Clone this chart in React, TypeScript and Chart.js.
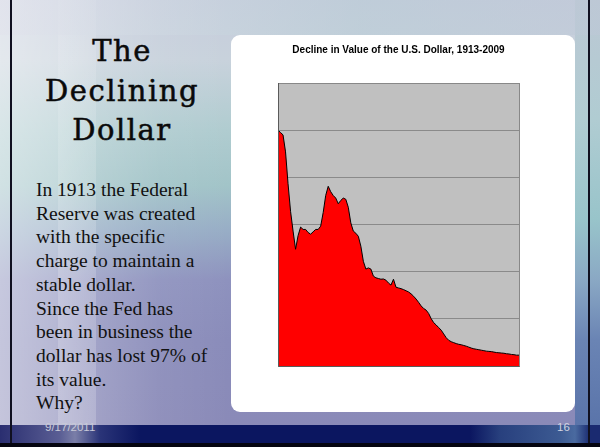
import React, { useEffect, useRef } from "react";
import { Chart, registerables } from "chart.js";

Chart.register(...registerables);

const START_YEAR = 1913;
const END_YEAR = 2009;
const years: string[] = Array.from({ length: END_YEAR - START_YEAR + 1 }, (_, i) => String(START_YEAR + i));

// Purchasing power of the 1913 dollar (1913 = 1.00)
const dollarValue: number[] = [
  1.0, 0.99, 0.98, 0.908, 0.773, 0.656, 0.572, 0.495, 0.553, 0.589,
  0.579, 0.579, 0.566, 0.559, 0.569, 0.579, 0.579, 0.593, 0.651, 0.723,
  0.762, 0.739, 0.723, 0.712, 0.688, 0.702, 0.712, 0.707, 0.673, 0.607,
  0.572, 0.563, 0.55, 0.508, 0.444, 0.411, 0.416, 0.411, 0.381, 0.374,
  0.371, 0.368, 0.369, 0.364, 0.352, 0.343, 0.368, 0.334, 0.331, 0.328,
  0.324, 0.319, 0.314, 0.306, 0.296, 0.284, 0.27, 0.255, 0.244, 0.237,
  0.223, 0.201, 0.184, 0.174, 0.163, 0.152, 0.136, 0.12, 0.109, 0.103,
  0.099, 0.095, 0.092, 0.09, 0.087, 0.084, 0.08, 0.076, 0.073, 0.071,
  0.069, 0.067, 0.065, 0.063, 0.062, 0.061, 0.059, 0.057, 0.056, 0.055,
  0.054, 0.052, 0.051, 0.049, 0.048, 0.046, 0.046,
];

const CHART_TITLE = "Decline in Value of the U.S. Dollar, 1913-2009";
const SLIDE_TITLE = ["The", "Declining", "Dollar"];
const BODY_LINES = [
  "In 1913 the Federal",
  "Reserve was created",
  "with the specific",
  "charge to maintain a",
  "stable dollar.",
  "Since the Fed has",
  "been in business the",
  "dollar has lost 97% of",
  "its value.",
  "Why?",
];
const DATE_TEXT = "9/17/2011";
const PAGE_NUM = "16";

const plotFrame = {
  id: "plotFrame",
  beforeDraw(chart: any) {
    const { ctx, chartArea } = chart;
    if (!chartArea) return;
    ctx.save();
    ctx.fillStyle = "#c0c0c0";
    ctx.fillRect(chartArea.left, chartArea.top, chartArea.right - chartArea.left, chartArea.bottom - chartArea.top);
    ctx.restore();
  },
  afterDraw(chart: any) {
    const { ctx, chartArea } = chart;
    if (!chartArea) return;
    ctx.save();
    ctx.lineWidth = 1;
    ctx.strokeStyle = "#888888";
    ctx.strokeRect(
      Math.round(chartArea.left) + 0.5,
      Math.round(chartArea.top) + 0.5,
      Math.round(chartArea.right - chartArea.left),
      Math.round(chartArea.bottom - chartArea.top)
    );
    ctx.strokeStyle = "#5a5a5a";
    ctx.beginPath();
    ctx.moveTo(Math.round(chartArea.left) + 0.5, Math.round(chartArea.top));
    ctx.lineTo(Math.round(chartArea.left) + 0.5, Math.round(chartArea.bottom) + 0.5);
    ctx.lineTo(Math.round(chartArea.right) + 0.5, Math.round(chartArea.bottom) + 0.5);
    ctx.stroke();
    ctx.restore();
  },
};

function DollarChart() {
  const ref = useRef<HTMLCanvasElement | null>(null);
  useEffect(() => {
    if (!ref.current) return;
    const chart = new Chart(ref.current, {
      type: "line",
      data: {
        labels: years,
        datasets: [
          {
            data: dollarValue,
            fill: "origin",
            backgroundColor: "#ff0000",
            borderColor: "#000000",
            borderWidth: 1,
            pointRadius: 0,
            tension: 0,
          },
        ],
      },
      options: {
        animation: false,
        responsive: false,
        maintainAspectRatio: false,
        layout: { padding: { left: 47, right: 56, top: 0, bottom: 46 } },
        plugins: {
          legend: { display: false },
          tooltip: { enabled: false },
          title: {
            display: true,
            text: CHART_TITLE,
            color: "#000000",
            font: { family: "Arial, 'Liberation Sans', sans-serif", size: 10, weight: "bold" },
            padding: { top: 9, bottom: 27 },
          },
        },
        scales: {
          x: { display: false },
          y: {
            min: 0,
            max: 1.2,
            ticks: { display: false, stepSize: 0.2 },
            grid: { color: "#8a8a8a", drawTicks: false, lineWidth: 1 },
            border: { display: false },
          },
        },
      },
      plugins: [plotFrame],
    } as any);
    return () => chart.destroy();
  }, []);
  return <canvas ref={ref} width={344} height={377} style={{ display: "block", width: 344, height: 377 }} />;
}

export default function App() {
  useEffect(() => {
    document.body.style.margin = "0";
  }, []);
  return (
    <div
      style={{
        position: "fixed",
        left: 0,
        top: 0,
        width: 600,
        height: 447,
        overflow: "hidden",
        background:
          "linear-gradient(to bottom, #c6ccdc 0px, #c8d2dc 60px, #b0ccd0 130px, #a2c4c8 185px, #98aec6 230px, #8e92be 280px, #8a8cba 340px, #8a8ab8 425px)",
      }}
    >
      {/* light left wash */}
      <div
        style={{
          position: "absolute",
          left: 0,
          top: 0,
          width: 600,
          height: 447,
          background:
            "linear-gradient(to right, rgba(255,255,255,0.5) 0px, rgba(255,255,255,0.38) 55px, rgba(255,255,255,0.2) 95px, rgba(255,255,255,0.06) 160px, rgba(255,255,255,0) 230px)",
        }}
      />
      {/* lighter vertical stripe */}
      <div
        style={{
          position: "absolute",
          left: 58,
          top: 0,
          width: 38,
          height: 447,
          background: "linear-gradient(to bottom, rgba(255,255,255,0.1), rgba(255,255,255,0.18) 60%, rgba(255,255,255,0.2))",
        }}
      />
      {/* right strip */}
      <div
        style={{
          position: "absolute",
          left: 575,
          top: 0,
          width: 25,
          height: 447,
          background:
            "linear-gradient(to bottom, #bcc8d4 0px, #b0ccd2 120px, #98c4ca 220px, #8aa8c4 280px, #6a84b4 340px, #5a74aa 425px)",
        }}
      />
      {/* top streak band */}
      <div
        style={{
          position: "absolute",
          left: 0,
          top: 0,
          width: 600,
          height: 35,
          background: "linear-gradient(to right, rgba(225,226,236,0.5), rgba(180,205,212,0.4) 60%, rgba(190,200,215,0.5))",
        }}
      />
      {/* footer band */}
      <div
        style={{
          position: "absolute",
          left: 0,
          top: 425,
          width: 600,
          height: 19,
          background:
            "linear-gradient(to right, #2a2e70 0px, #5a5e94 60px, #7a7ea8 75px, #2a3478 100px, #0b1660 140px, #0b1660 470px, #28407e 500px, #3c5a92 560px, #4a6aa0 575px, #1a2a70 590px)",
        }}
      />
      {/* frame lines */}
      <div style={{ position: "absolute", left: 10, top: 0, width: 2, height: 445, background: "#101020" }} />
      <div style={{ position: "absolute", left: 588, top: 0, width: 2, height: 445, background: "#101020" }} />
      <div style={{ position: "absolute", left: 0, top: 443, width: 600, height: 4, background: "#050510" }} />

      {/* slide title */}
      <div
        style={{
          position: "absolute",
          left: 20,
          top: 32,
          width: 204,
          textAlign: "center",
          fontFamily: "'DejaVu Serif', serif",
          fontSize: 29,
          letterSpacing: 1.5,
          lineHeight: "39.7px",
          color: "#0a0a0a",
          WebkitTextStroke: "0.5px #0a0a0a",
        }}
      >
        {SLIDE_TITLE.map((t) => (
          <div key={t}>{t}</div>
        ))}
      </div>

      {/* body text */}
      <div
        style={{
          position: "absolute",
          left: 36,
          top: 178,
          width: 200,
          fontFamily: "'Liberation Serif', 'Times New Roman', serif",
          fontSize: 19.5,
          lineHeight: "23.7px",
          color: "#111111",
          whiteSpace: "nowrap",
        }}
      >
        {BODY_LINES.map((t) => (
          <div key={t}>{t}</div>
        ))}
      </div>

      {/* white panel with chart */}
      <div
        style={{
          position: "absolute",
          left: 231,
          top: 35,
          width: 344,
          height: 377,
          background: "#ffffff",
          borderRadius: 9,
          overflow: "hidden",
        }}
      >
        <DollarChart />
      </div>

      {/* footer texts */}
      <div
        style={{
          position: "absolute",
          left: 45,
          top: 420,
          fontFamily: "Arial, 'Liberation Sans', sans-serif",
          fontSize: 11.5,
          lineHeight: "14px",
          color: "#c8cad8",
        }}
      >
        {DATE_TEXT}
      </div>
      <div
        style={{
          position: "absolute",
          left: 557,
          top: 420,
          fontFamily: "Arial, 'Liberation Sans', sans-serif",
          fontSize: 11.5,
          lineHeight: "14px",
          color: "#d0d4e0",
        }}
      >
        {PAGE_NUM}
      </div>
    </div>
  );
}
